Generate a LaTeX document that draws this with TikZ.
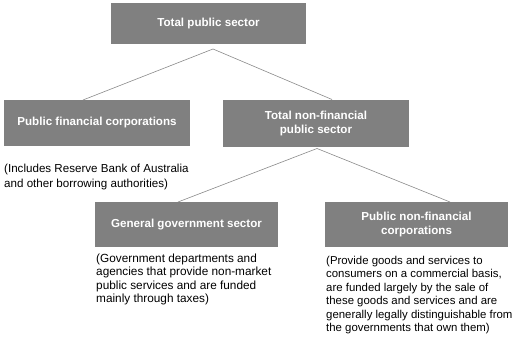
\documentclass[tikz,border=0pt]{standalone}
\usepackage{fontspec}
\setmainfont{Liberation Sans}
\begin{document}
\begin{tikzpicture}[x=1pt,y=-1pt,
  box/.style={fill=boxgray,draw=none,text=white,font=\fontsize{11.6}{14.5}\selectfont\bfseries,align=center,inner sep=0pt},
  note/.style={anchor=north west,inner sep=0pt,align=left,font=\fontsize{11.4}{13.4}\selectfont,text=black},
  link/.style={draw=linegray,line width=0.6pt}]
\definecolor{boxgray}{HTML}{808080}
\definecolor{linegray}{HTML}{8A8A8A}
\useasboundingbox (0,0) rectangle (514,344);
\node[box,minimum width=195pt,minimum height=41pt] (tps) at (208.5,23.5) {Total public sector};
\node[box,minimum width=186pt,minimum height=46pt] (pfc) at (97,123) {Public financial corporations};
\node[box,minimum width=186pt,minimum height=47pt] (tnfps) at (316,123.5) {Total non-financial\\public sector};
\node[box,minimum width=183pt,minimum height=45pt] (ggs) at (186.5,224.5) {General government sector};
\node[box,minimum width=183pt,minimum height=45pt] (pnfc) at (416.5,224.5) {Public non-financial\\corporations};
\coordinate (a1) at (213,49);
\coordinate (a1l) at (83,100);
\coordinate (a1r) at (332,99.5);
\coordinate (a2) at (317,148.5);
\coordinate (a2l) at (178,202);
\coordinate (a2r) at (450,202);
\draw[link] (a1) -- (a1l);
\draw[link] (a1) -- (a1r);
\draw[link] (a2) -- (a2l);
\draw[link] (a2) -- (a2r);
\node[note,font=\fontsize{11.6}{14.8}\selectfont] (pfcn) at (4,164) {(Includes Reserve Bank of Australia\\and other borrowing authorities)};
\node[note,font=\fontsize{11.8}{13.4}\selectfont] (ggsn) at (96,253.5) {(Government departments and\\agencies that provide non-market\\public services and are funded\\mainly through taxes)};
\node[note] (pnfcn) at (326,256) {(Provide goods and services to\\consumers on a commercial basis,\\are funded largely by the sale of\\these goods and services and are\\generally legally distinguishable from\\the governments that own them)};
\end{tikzpicture}
\end{document}
